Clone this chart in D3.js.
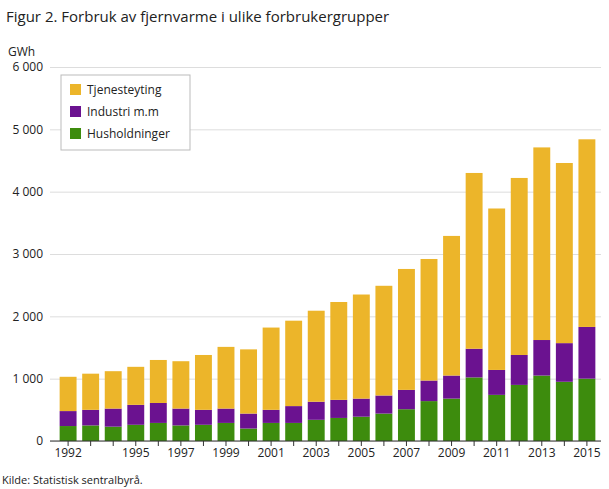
<!DOCTYPE html>
<html><head><meta charset="utf-8">
<script src="https://cdn.jsdelivr.net/npm/d3@7"></script>
<style>body{margin:0;font-family:"Open Sans",sans-serif;background:#fff}</style>
</head><body><svg id="c" width="609" height="489"></svg>
<script>
const years=[1992,1993,1994,1995,1996,1997,1998,1999,2000,2001,2002,2003,2004,2005,2006,2007,2008,2009,2010,2011,2012,2013,2014,2015];
const husholdninger=[240,250,230,260,290,250,260,290,200,290,290,340,370,390,440,510,640,680,1020,740,900,1050,950,1000];
const industri=[240,250,290,320,320,270,240,230,240,210,270,290,290,290,290,310,330,370,460,400,480,570,620,830];
const tjenesteyting=[550,580,600,610,690,760,880,990,1030,1320,1370,1460,1570,1670,1760,1940,1950,2240,2820,2590,2840,3090,2890,3010];
const yTicks=[0,1000,2000,3000,4000,5000,6000];
const xLabels=[1992,1995,1997,1999,2001,2003,2005,2007,2009,2011,2013,2015];
const seriesNames=["Husholdninger","Industri m.m","Tjenesteyting"];
const colors=["#3d8c0d","#6b1290","#ecb52a"];

const svg=d3.select("#c");
const m={l:50,r:8,t:67,b:48};
const W=609,H=489;
const x=d3.scaleBand().domain(years).range([m.l+4,W-m.r]).padding(0.25);
const y=d3.scaleLinear().domain([0,6000]).range([H-m.b,m.t]);
const fmt=v=>d3.format(",")(v).replace(/,/g," ");

svg.append("text").attr("x",6).attr("y",22).attr("font-size",15).attr("fill","#222").text("Figur 2. Forbruk av fjernvarme i ulike forbrukergrupper");
svg.append("text").attr("x",8).attr("y",56).attr("font-size",12).attr("fill","#222").text("GWh");

const ya=svg.append("g").attr("transform",`translate(${W-m.r},0)`).call(d3.axisLeft(y).tickValues(yTicks).tickSize(W-m.r-m.l).tickFormat(fmt));
ya.select(".domain").remove();
ya.selectAll(".tick line").attr("stroke","#ddd");
ya.selectAll(".tick text").attr("font-size",12).attr("fill","#222").attr("dx",-4).attr("font-family","Open Sans");

const data=years.map((yr,i)=>({year:yr,Husholdninger:husholdninger[i],"Industri m.m":industri[i],Tjenesteyting:tjenesteyting[i]}));
const stack=d3.stack().keys(seriesNames)(data);
svg.selectAll("g.s").data(stack).join("g").attr("fill",(d,i)=>colors[i])
 .selectAll("rect").data(d=>d).join("rect")
 .attr("x",d=>x(d.data.year)).attr("width",x.bandwidth())
 .attr("y",d=>y(d[1])).attr("height",d=>y(d[0])-y(d[1]));

svg.append("line").attr("x1",m.l).attr("x2",W-m.r).attr("y1",y(0)).attr("y2",y(0)).attr("stroke","#333");
const xa=svg.append("g").attr("transform",`translate(0,${y(0)})`).call(d3.axisBottom(x).tickValues(years).tickSize(5).tickFormat(d=>xLabels.includes(d)?d:""));
xa.select(".domain").remove();
xa.selectAll(".tick line").attr("stroke","#333");
xa.selectAll(".tick text").attr("font-size",12).attr("fill","#222").attr("dy",8).attr("font-family","Open Sans");

const lg=svg.append("g").attr("transform","translate(61,75)");
lg.append("rect").attr("width",129).attr("height",75).attr("fill","#fff").attr("stroke","#bbb");
[2,1,0].forEach((k,j)=>{
 const g=lg.append("g").attr("transform",`translate(9,${9+j*22})`);
 g.append("rect").attr("width",11).attr("height",11).attr("fill",colors[k]);
 g.append("text").attr("x",17).attr("y",10).attr("font-size",12).attr("fill","#222").text(seriesNames[k]);
});
svg.append("text").attr("x",2).attr("y",484).attr("font-size",11).attr("fill","#222").text("Kilde: Statistisk sentralbyrå.");
</script></body></html>
